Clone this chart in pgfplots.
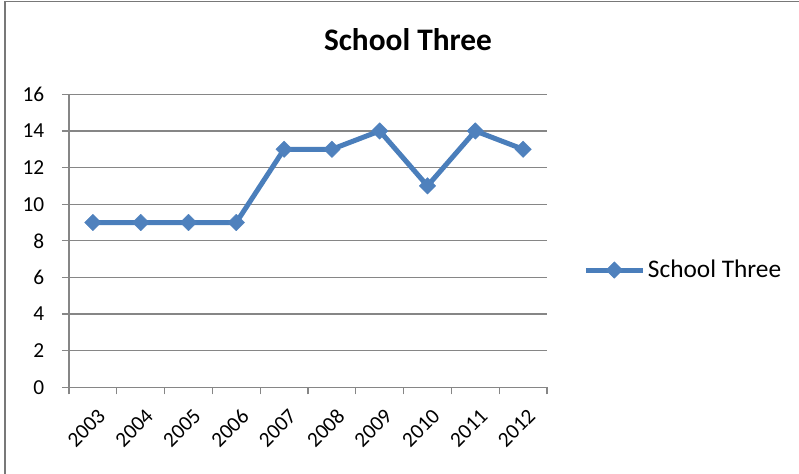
\documentclass[border=0pt]{standalone}
\usepackage{fontspec}
\setmainfont{Carlito}
\usepackage{pgfplots}
\pgfplotsset{compat=1.18}

\definecolor{seriesblue}{RGB}{74,126,187}
\definecolor{markblue}{RGB}{79,129,189}
\definecolor{gridgray}{RGB}{134,134,134}
\definecolor{framegray}{RGB}{120,120,120}

\begin{document}
\begin{tikzpicture}
\useasboundingbox (0,0) rectangle (599.25pt,355.5pt);
% chart frame: left and top edges
\draw[framegray, line width=1.2pt] (3.75pt,0pt) -- (3.75pt,354.4pt) -- (599.25pt,354.4pt);
% chart title
\node[anchor=base, inner sep=0pt, font=\fontsize{23.5}{28}\selectfont\bfseries] at (306pt,317.25pt) {School Three};
\begin{axis}[
  at={(51.75pt,65pt)}, anchor=south west,
  scale only axis, width=358.5pt, height=219.75pt,
  xmin=-0.5, xmax=9.5, ymin=0, ymax=16,
  axis x line*=bottom, axis y line*=left,
  axis line style={gridgray, line width=0.9pt},
  ymajorgrids, grid style={gridgray, line width=0.9pt},
  % tick marks come from the minor ticks; labels sit on the major ones
  tick align=outside, major tick length=0pt, minor tick length=5.25pt,
  tick style={gridgray, line width=0.9pt},
  /pgf/number format/assume math mode=true,
  tick label style={font=\fontsize{16}{19}\selectfont},
  ytick={0,2,...,16},
  minor ytick={0,2,...,16},
  yticklabel style={anchor=east, xshift=-15pt},
  xtick={0,1,2,3,4,5,6,7,8,9},
  xticklabels={2003,2004,2005,2006,2007,2008,2009,2010,2011,2012},
  minor xtick={-0.5,0.5,1.5,2.5,3.5,4.5,5.5,6.5,7.5,8.5,9.5},
  xticklabel style={xshift=2.8pt, yshift=-10.3pt, rotate=45, anchor=north east},
  legend style={at={(1.0753,0.4003)}, anchor=west, draw=none, fill=none,
    inner sep=0pt, font=\fontsize{19}{22}\selectfont},
  legend cell align=left,
  legend image code/.code={
    \draw[mark repeat=2, mark phase=2, #1] plot coordinates {(0pt,0pt) (21.4pt,0pt) (42.75pt,0pt)};
  },
]
\addplot[seriesblue, line width=3.75pt, line join=round,
  mark=square*, mark size=4.4pt,
  mark options={markblue, fill=markblue, rotate=45, line width=0.3pt, solid}]
  coordinates {
    (0,9) (1,9) (2,9) (3,9) (4,13)
    (5,13) (6,14) (7,11) (8,14) (9,13)
  };
\addlegendentry{School Three}
\end{axis}
\end{tikzpicture}
\end{document}
